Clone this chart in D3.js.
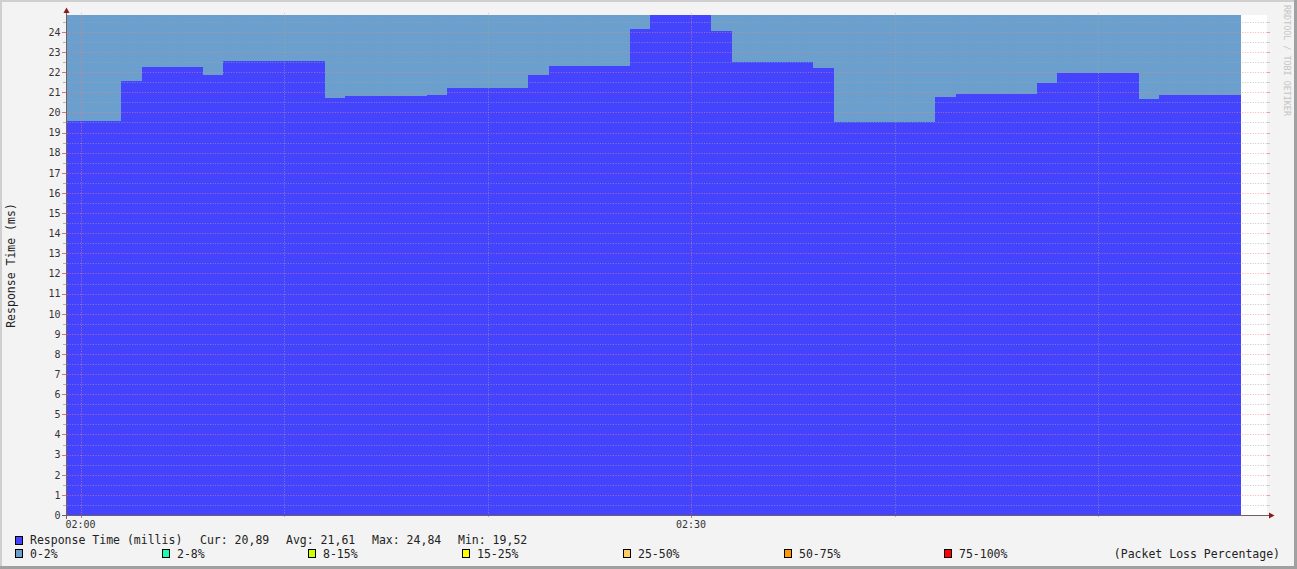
<!DOCTYPE html>
<html>
<head>
<meta charset="utf-8">
<script src="https://cdn.jsdelivr.net/npm/d3@7"></script>
<style>
  html, body { margin: 0; padding: 0; background: #f3f3f3; }
  svg { display: block; }
  text { font-family: "DejaVu Sans Mono", monospace; }
</style>
</head>
<body>
<script>
// ---- data ----
const segmentStart = ["01:59:20","02:02","02:03","02:06","02:07","02:12","02:13","02:17","02:18","02:22","02:23","02:27",
                      "02:28","02:31","02:32","02:36","02:37","02:42","02:43","02:47","02:48","02:52","02:53"];
const dataEnd = "02:57";
const responseMs = [19.58, 21.57, 22.26, 21.88, 22.56, 20.74, 20.82, 20.87, 21.22, 21.86, 22.31, 24.15,
                    24.84, 24.05, 22.51, 22.21, 19.53, 20.77, 20.92, 21.47, 21.96, 20.67, 20.89];
const lossBand = [0,0,0,0,0,0,0,0,0,0,0,0,0,0,0,0,0,0,0,0,0,0,0];
const lossLabels = ["0-2%","2-8%","8-15%","15-25%","25-50%","50-75%","75-100%"];
const lossColors = ["#6a9fce","#1affad","#ccff00","#ffff00","#ffcc66","#ff9900","#ff0000"];
const yMajorTicks = d3.range(0, 25, 1);
const yMinorTicks = d3.range(0.5, 25, 1);
const xMajorTicks = ["02:00","02:30"];
const xMinorTicks = ["02:10","02:20","02:40","02:50"];
const statLabels = ["Cur: 20,89","Avg: 21,61","Max: 24,84","Min: 19,52"];
const seriesLabel = "Response Time (millis)";
const timeDomain = ["01:59:20","02:58:18"];
const yMax = 24.84;

// ---- setup ----
const W = 1297, H = 569;
const parse = s => {
  const p = s.split(":").map(Number);
  return new Date(2020, 0, 1, p[0], p[1], p[2] || 0);
};
const x = d3.scaleTime().domain(timeDomain.map(parse)).range([67, 1267]);
const y = d3.scaleLinear().domain([0, yMax]).range([515, 15]);

const svg = d3.select("body").append("svg").attr("width", W).attr("height", H);

// background + 3D frame
svg.append("rect").attr("x",0).attr("y",0).attr("width",W).attr("height",H).attr("fill","#f3f3f3");
svg.append("rect").attr("x",0).attr("y",0).attr("width",W).attr("height",2).attr("fill","#cfcfcf");
svg.append("rect").attr("x",0).attr("y",0).attr("width",2).attr("height",H).attr("fill","#cfcfcf");
svg.append("rect").attr("x",0).attr("y",H-3).attr("width",W).attr("height",3).attr("fill","#a0a0a0");
svg.append("rect").attr("x",W-3).attr("y",0).attr("width",3).attr("height",H).attr("fill","#a0a0a0");

// plot background
svg.append("rect").attr("x",67).attr("y",y(yMax)).attr("width",1267-67).attr("height",y(0)-y(yMax)).attr("fill","#ffffff");

// segments
const segs = segmentStart.map((s,i) => ({
  t0: parse(s),
  t1: parse(i < segmentStart.length-1 ? segmentStart[i+1] : dataEnd),
  v: responseMs[i],
  loss: lossBand[i]
}));

// loss band background (full height)
svg.append("g").selectAll("rect").data(segs).join("rect")
  .attr("x", d => x(d.t0)).attr("width", d => x(d.t1) - x(d.t0))
  .attr("y", y(yMax)).attr("height", y(0) - y(yMax))
  .attr("fill", d => lossColors[d.loss])
  .attr("shape-rendering","crispEdges");

// response area (step)
const pts = segs.map(d => ({t: d.t0, v: d.v}));
pts.push({t: parse(dataEnd), v: responseMs[responseMs.length-1]});
const area = d3.area().curve(d3.curveStepAfter)
  .x(d => x(d.t)).y0(y(0)).y1(d => y(d.v));
svg.append("path").datum(pts).attr("d", area).attr("fill","#4444ff").attr("shape-rendering","crispEdges");

// grid
const gMinor = "rgba(165,165,165,0.6)";
const gMajor = "rgba(255,125,125,0.6)";
const dash = "1,1.6";
const grid = svg.append("g");
const yr = d => Math.round(y(d)) + 0.5;
const xr = d => Math.round(x(parse(d))) + 0.5;
grid.selectAll(".hmin").data(yMinorTicks).join("line")
  .attr("x1",67).attr("x2",1267).attr("y1", yr).attr("y2", yr)
  .attr("stroke", gMinor).attr("stroke-dasharray", dash);
grid.selectAll(".hmaj").data(yMajorTicks.filter(d => d > 0)).join("line")
  .attr("x1",67).attr("x2",1267).attr("y1", yr).attr("y2", yr)
  .attr("stroke", gMajor).attr("stroke-dasharray", dash);
grid.selectAll(".vmin").data(xMinorTicks).join("line")
  .attr("x1", xr).attr("x2", xr).attr("y1",13).attr("y2",515)
  .attr("stroke", gMinor).attr("stroke-dasharray", dash);
grid.selectAll(".vmaj").data(xMajorTicks).join("line")
  .attr("x1", xr).attr("x2", xr).attr("y1",13).attr("y2",515)
  .attr("stroke", gMajor).attr("stroke-dasharray", dash);

// solid ticks
grid.selectAll(".ytmin").data(yMinorTicks).join("line")
  .attr("x1",63).attr("x2",66).attr("y1", yr).attr("y2", yr).attr("stroke", "#b4b4b4");
grid.selectAll(".ytmaj").data(yMajorTicks).join("line")
  .attr("x1",62).attr("x2",66).attr("y1", yr).attr("y2", yr).attr("stroke", "#e07070");
grid.selectAll(".ytminr").data(yMinorTicks).join("line")
  .attr("x1",1267).attr("x2",1270).attr("y1", yr).attr("y2", yr).attr("stroke", "#cccccc");
grid.selectAll(".ytmajr").data(yMajorTicks.filter(d => d > 0)).join("line")
  .attr("x1",1267).attr("x2",1270).attr("y1", yr).attr("y2", yr).attr("stroke", "#f0a0a0");
grid.selectAll(".xtmaj").data(xMajorTicks).join("line")
  .attr("x1", xr).attr("x2", xr).attr("y1",515).attr("y2",518).attr("stroke", "#e07070");
grid.selectAll(".xtmin").data(xMinorTicks).join("line")
  .attr("x1", xr).attr("x2", xr).attr("y1",515).attr("y2",517).attr("stroke", "#b4b4b4");

// axes
svg.append("line").attr("x1",62).attr("x2",1269).attr("y1",515.5).attr("y2",515.5).attr("stroke","#6f5f5f");
svg.append("line").attr("x1",66.5).attr("x2",66.5).attr("y1",11).attr("y2",519).attr("stroke","#6f5f5f");
svg.append("path").attr("d","M1269,512.5L1274.5,515.5L1269,518.5Z").attr("fill","#8b1a1a");
svg.append("path").attr("d","M63.5,13L66.5,7.5L69.5,13Z").attr("fill","#8b1a1a");

// y tick labels
svg.append("g").selectAll("text").data(yMajorTicks).join("text")
  .attr("x",60.5).attr("y", d => y(d) + 3.8)
  .attr("text-anchor","end").attr("font-size","10px").attr("fill","#333")
  .text(d => d);

// x tick labels
svg.append("g").selectAll("text").data(xMajorTicks).join("text")
  .attr("x", d => x(parse(d))).attr("y", 527.5)
  .attr("text-anchor","middle").attr("font-size","10px").attr("fill","#333")
  .text(d => d);

// y axis title
svg.append("text").attr("transform","translate(15,265.5) rotate(-90)")
  .attr("text-anchor","middle").attr("font-size","11.5px").attr("fill","#222")
  .text("Response Time (ms)");

// watermark
svg.append("text").attr("transform","translate(1284,5) rotate(90)")
  .attr("font-size","8.4px").attr("fill","#c4c4c4")
  .text("RRDTOOL / TOBI OETIKER");

// legend row 1
svg.append("rect").attr("x",15.5).attr("y",536.5).attr("width",7).attr("height",8)
  .attr("fill","#4444ff").attr("stroke","#000");
svg.append("text").attr("x",30).attr("y",544).attr("font-size","11.5px").attr("fill","#222").text(seriesLabel);
const statX = [200, 286, 372, 458];
svg.append("g").selectAll("text").data(statLabels).join("text")
  .attr("x",(d,i) => statX[i]).attr("y",544).attr("font-size","11.5px").attr("fill","#222")
  .text(d => d);

// legend row 2
const lossX = [15, 162, 308, 462, 623, 784, 944];
const lg = svg.append("g").selectAll("g").data(lossLabels).join("g")
  .attr("transform",(d,i) => `translate(${lossX[i]},0)`);
lg.append("rect").attr("x",0.5).attr("y",549.5).attr("width",7).attr("height",8)
  .attr("fill",(d,i) => lossColors[i]).attr("stroke","#000");
lg.append("text").attr("x",15).attr("y",557.5).attr("font-size","11.5px").attr("fill","#222").text(d => d);
svg.append("text").attr("x",1280).attr("y",557.5).attr("text-anchor","end")
  .attr("font-size","11.5px").attr("fill","#222").text("(Packet Loss Percentage)");
</script>
</body>
</html>
